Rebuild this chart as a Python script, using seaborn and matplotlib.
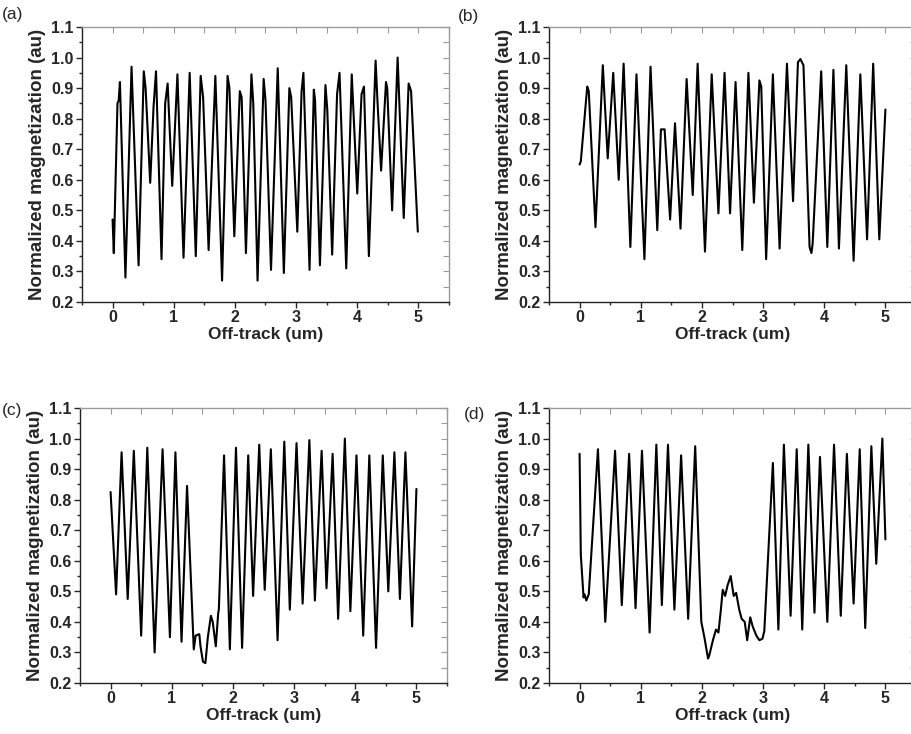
import matplotlib
matplotlib.use("Agg")
import matplotlib.pyplot as plt
import numpy as np
import pandas as pd
import seaborn as sns
from matplotlib.ticker import MultipleLocator

# (a) off-track position (um) and normalized magnetization
a_x = [0.00, 0.02, 0.08, 0.10, 0.12, 0.21, 0.31, 0.425, 0.51, 0.54, 0.615, 0.67, 0.71, 0.80, 0.86, 0.90,
       0.975, 1.06, 1.16, 1.26, 1.36, 1.44, 1.48, 1.57, 1.68, 1.79, 1.88, 1.91, 1.99, 2.08, 2.11, 2.18,
       2.27, 2.30, 2.37, 2.47, 2.50, 2.59, 2.70, 2.80, 2.89, 2.92, 3.02, 3.09, 3.12, 3.22, 3.29, 3.31,
       3.39, 3.48, 3.51, 3.59, 3.67, 3.71, 3.82, 3.91, 4.00, 4.07, 4.11, 4.19, 4.30, 4.33, 4.39, 4.47,
       4.49, 4.57, 4.66, 4.76, 4.84, 4.88, 4.99]
a_y = [0.47, 0.36, 0.85, 0.86, 0.92, 0.28, 0.97, 0.32, 0.955, 0.90, 0.59, 0.84, 0.955, 0.34, 0.85, 0.915,
       0.58, 0.945, 0.345, 0.95, 0.35, 0.94, 0.87, 0.37, 0.94, 0.27, 0.94, 0.90, 0.415, 0.89, 0.87, 0.36,
       0.945, 0.85, 0.27, 0.93, 0.86, 0.305, 0.965, 0.295, 0.90, 0.87, 0.43, 0.89, 0.95, 0.305, 0.895, 0.86,
       0.32, 0.91, 0.83, 0.355, 0.88, 0.95, 0.31, 0.945, 0.555, 0.88, 0.905, 0.35, 0.99, 0.86, 0.63, 0.92,
       0.90, 0.50, 1.00, 0.475, 0.915, 0.89, 0.43]

# (b)
b_x = [0.00, 0.02, 0.125, 0.15, 0.26, 0.38, 0.46, 0.55, 0.64, 0.72, 0.83, 0.93, 1.06, 1.16, 1.27, 1.33,
       1.39, 1.48, 1.56, 1.65, 1.75, 1.85, 1.93, 2.05, 2.16, 2.27, 2.37, 2.46, 2.55, 2.66, 2.76, 2.85,
       2.94, 2.97, 3.05, 3.16, 3.27, 3.39, 3.49, 3.57, 3.61, 3.66, 3.76, 3.79, 3.81, 3.95, 4.05, 4.15,
       4.24, 4.36, 4.48, 4.59, 4.70, 4.80, 4.90, 5.00]
b_y = [0.65, 0.66, 0.905, 0.89, 0.445, 0.975, 0.67, 0.95, 0.60, 0.98, 0.38, 0.945, 0.34, 0.97, 0.435, 0.765,
       0.765, 0.47, 0.785, 0.44, 0.93, 0.55, 0.98, 0.365, 0.945, 0.49, 0.95, 0.49, 0.92, 0.37, 0.95, 0.525,
       0.925, 0.905, 0.34, 0.945, 0.375, 0.98, 0.53, 0.985, 0.995, 0.975, 0.38, 0.36, 0.39, 0.955, 0.38, 0.96,
       0.375, 0.975, 0.335, 0.945, 0.405, 0.98, 0.405, 0.83]

# (c)
c_x = [0.00, 0.09, 0.18, 0.28, 0.38, 0.50, 0.60, 0.72, 0.85, 0.97, 1.06, 1.16, 1.25, 1.36, 1.39, 1.45,
       1.47, 1.51, 1.55, 1.59, 1.64, 1.67, 1.72, 1.76, 1.77, 1.855, 1.95, 2.05, 2.15, 2.25, 2.33, 2.43,
       2.52, 2.62, 2.73, 2.84, 2.93, 3.04, 3.14, 3.25, 3.34, 3.45, 3.53, 3.63, 3.72, 3.83, 3.92, 4.02,
       4.13, 4.23, 4.34, 4.45, 4.54, 4.64, 4.73, 4.82, 4.93, 5.00]
c_y = [0.825, 0.49, 0.955, 0.475, 0.96, 0.355, 0.97, 0.30, 0.965, 0.35, 0.955, 0.335, 0.845, 0.31, 0.355, 0.36,
       0.32, 0.27, 0.265, 0.35, 0.42, 0.40, 0.32, 0.43, 0.44, 0.945, 0.31, 0.97, 0.315, 0.945, 0.485, 0.98,
       0.505, 0.965, 0.34, 0.99, 0.44, 0.985, 0.46, 0.995, 0.47, 0.96, 0.51, 0.95, 0.41, 1.00, 0.435, 0.945,
       0.355, 0.945, 0.315, 0.945, 0.50, 0.955, 0.475, 0.955, 0.385, 0.835]

# (d)
d_x = [0.00, 0.02, 0.065, 0.08, 0.11, 0.15, 0.30, 0.42, 0.58, 0.69, 0.81, 0.915, 1.02, 1.145, 1.255, 1.345,
       1.445, 1.55, 1.66, 1.775, 1.89, 1.99, 2.04, 2.10, 2.12, 2.18, 2.23, 2.27, 2.31, 2.34, 2.38, 2.42,
       2.47, 2.52, 2.56, 2.61, 2.65, 2.70, 2.74, 2.79, 2.83, 2.89, 2.94, 2.99, 3.02, 3.16, 3.25, 3.34,
       3.45, 3.55, 3.64, 3.74, 3.84, 3.93, 4.05, 4.16, 4.27, 4.37, 4.48, 4.58, 4.67, 4.77, 4.85, 4.95, 5.00]
d_y = [0.95, 0.62, 0.48, 0.49, 0.47, 0.49, 0.965, 0.40, 0.96, 0.455, 0.95, 0.445, 0.96, 0.365, 0.98, 0.455,
       0.98, 0.44, 0.945, 0.41, 0.975, 0.40, 0.35, 0.28, 0.29, 0.34, 0.375, 0.365, 0.44, 0.505, 0.485, 0.52,
       0.55, 0.485, 0.495, 0.44, 0.41, 0.40, 0.34, 0.415, 0.385, 0.355, 0.34, 0.345, 0.37, 0.92, 0.375, 0.98,
       0.42, 0.965, 0.375, 0.98, 0.43, 0.94, 0.40, 0.98, 0.42, 0.95, 0.46, 0.965, 0.38, 0.975, 0.59, 1.00, 0.67]

panel_labels = ["(a)", "(b)", "(c)", "(d)"]
xlabel = "Off-track (um)"
ylabel = "Normalized magnetization (au)"

sns.set_style("ticks")
plt.rcParams["font.family"] = ["Liberation Sans", "DejaVu Sans"]

fig = plt.figure(figsize=(9.12, 7.34), dpi=100)

rects = [
    [82 / 912, 1 - 302 / 734, 367 / 912, 275 / 734],
    [549 / 912, 1 - 302 / 734, 367 / 912, 275 / 734],
    [80 / 912, 1 - 683 / 734, 367 / 912, 275 / 734],
    [549 / 912, 1 - 683 / 734, 367 / 912, 275 / 734],
]
label_pos = [(2, 14), (458, 16), (2, 410), (464, 414)]
series = [(a_x, a_y), (b_x, b_y), (c_x, c_y), (d_x, d_y)]

for rect, (xs, ys), lab, lp in zip(rects, series, panel_labels, label_pos):
    ax = fig.add_axes(rect)
    df = pd.DataFrame({"x": xs, "y": ys})
    sns.lineplot(data=df, x="x", y="y", ax=ax, color="black", linewidth=1.5,
                 sort=False, estimator=None, solid_joinstyle="round", solid_capstyle="round")
    ax.set_xlim(-0.5, 5.5)
    ax.set_ylim(0.2, 1.1)
    ax.xaxis.set_major_locator(MultipleLocator(1))
    ax.xaxis.set_minor_locator(MultipleLocator(0.5))
    ax.yaxis.set_major_locator(MultipleLocator(0.1))
    ax.yaxis.set_minor_locator(MultipleLocator(0.05))
    ax.set_xticks(np.arange(0, 6, 1))
    ax.set_xticklabels([str(i) for i in range(6)])
    ax.tick_params(which="major", direction="out", length=4, width=1, labelsize=11.5, pad=2)
    ax.tick_params(which="minor", direction="out", length=2.5, width=1)
    for t in ax.get_xticklabels() + ax.get_yticklabels():
        t.set_fontweight("bold")
    ax.set_xlabel(xlabel, fontsize=12.5, fontweight="bold", labelpad=1)
    ax.set_ylabel(ylabel, fontsize=13.5, fontweight="bold", labelpad=4)
    for s in ["left", "bottom"]:
        ax.spines[s].set_color("#222222")
        ax.spines[s].set_linewidth(1.0)
    for s in ["top", "right"]:
        ax.spines[s].set_color("#9a9a9a")
        ax.spines[s].set_linewidth(1.0)
    top = ax.secondary_xaxis("top")
    top.xaxis.set_major_locator(MultipleLocator(0.5))
    top.tick_params(direction="in", length=4, color="#9a9a9a", labeltop=False)
    top.spines["top"].set_visible(False)
    right = ax.secondary_yaxis("right")
    right.yaxis.set_major_locator(MultipleLocator(0.05))
    right.tick_params(direction="in", length=4, color="#9a9a9a", labelright=False)
    right.spines["right"].set_visible(False)
    fig.text(lp[0] / 912, 1 - lp[1] / 734, lab, fontsize=12.5, ha="left", va="center")

fig.savefig("out.png", dpi=100)
